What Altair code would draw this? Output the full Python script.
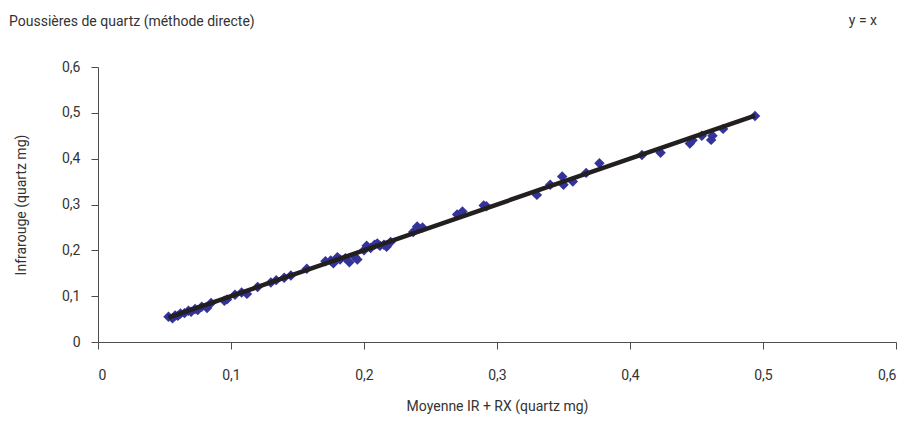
import altair as alt
import pandas as pd

# Data
x_vals = [0.053, 0.056, 0.058, 0.060, 0.062, 0.065, 0.068, 0.070, 0.073, 0.075,
          0.078, 0.082, 0.085, 0.095, 0.097, 0.103, 0.108, 0.112, 0.120, 0.130,
          0.134, 0.140, 0.145, 0.157, 0.171, 0.175, 0.177, 0.180, 0.182, 0.186,
          0.189, 0.193, 0.195, 0.200, 0.202, 0.205, 0.208, 0.210, 0.212, 0.215,
          0.217, 0.220, 0.237, 0.240, 0.244, 0.270, 0.274, 0.290, 0.292, 0.330,
          0.340, 0.349, 0.350, 0.357, 0.367, 0.377, 0.409, 0.423, 0.445, 0.447,
          0.454, 0.461, 0.462, 0.470, 0.494]
y_vals = [0.055, 0.052, 0.058, 0.057, 0.062, 0.063, 0.068, 0.066, 0.072, 0.070,
          0.077, 0.074, 0.085, 0.090, 0.093, 0.103, 0.108, 0.105, 0.120, 0.130,
          0.135, 0.140, 0.145, 0.160, 0.176, 0.178, 0.172, 0.185, 0.180, 0.183,
          0.174, 0.186, 0.180, 0.200, 0.210, 0.205, 0.212, 0.215, 0.210, 0.212,
          0.208, 0.218, 0.240, 0.252, 0.250, 0.278, 0.285, 0.298, 0.296, 0.321,
          0.343, 0.361, 0.343, 0.350, 0.369, 0.390, 0.408, 0.413, 0.433, 0.440,
          0.450, 0.441, 0.450, 0.465, 0.493]
tick_values = [0, 0.1, 0.2, 0.3, 0.4, 0.5, 0.6]

title_text = "Poussières de quartz (méthode directe)"
legend_text = "y = x"
x_title = "Moyenne IR + RX (quartz mg)"
y_title = "Infrarouge (quartz mg)"

pts = pd.DataFrame({"x": x_vals, "y": y_vals})
line_df = pd.DataFrame({"x": [min(x_vals), max(x_vals)], "y": [min(x_vals), max(x_vals)]})

FONT = "Roboto"
FS = 14
AX = "#4d4d4d"
TXT = "#333333"
label_expr = "datum.value == 0 ? '0' : replace(format(datum.value, '.1f'), '.', ',')"

xscale = alt.Scale(domain=[0, 0.6], nice=False, zero=True)
yscale = alt.Scale(domain=[0, 0.6], nice=False, zero=True)

xaxis = alt.Axis(values=tick_values, labelExpr=label_expr, title=x_title, grid=False,
                 domainColor=AX, tickColor=AX, tickSize=7, labelPadding=19,
                 labelFont=FONT, labelFontSize=FS, labelColor=TXT,
                 titleFont=FONT, titleFontSize=FS, titleColor=TXT, titleFontWeight="normal",
                 titlePadding=17)
yaxis = alt.Axis(values=tick_values, labelExpr=label_expr, title=y_title, grid=False,
                 domainColor=AX, tickColor=AX, tickSize=7, labelPadding=11,
                 labelFont=FONT, labelFontSize=FS, labelColor=TXT,
                 titleFont=FONT, titleFontSize=FS, titleColor=TXT, titleFontWeight="normal",
                 titlePadding=33)

points = alt.Chart(pts).mark_point(shape="diamond", filled=True, size=110, color="#333399",
                                   opacity=1).encode(
    x=alt.X("x:Q", scale=xscale, axis=xaxis),
    y=alt.Y("y:Q", scale=yscale, axis=yaxis),
)

line = alt.Chart(line_df).mark_line(color="#231f20", strokeWidth=4.5).encode(
    x=alt.X("x:Q", scale=xscale),
    y=alt.Y("y:Q", scale=yscale),
)

legend = alt.Chart(pd.DataFrame({"t": [legend_text]})).mark_text(
    font=FONT, fontSize=FS, color=TXT, align="right", baseline="middle"
).encode(x=alt.value(779), y=alt.value(-46), text="t:N")

title = alt.Chart(pd.DataFrame({"t": [title_text]})).mark_text(
    font=FONT, fontSize=FS, color=TXT, align="left", baseline="middle"
).encode(x=alt.value(-89), y=alt.value(-45), text="t:N")

chart = alt.layer(points, line, legend, title).properties(
    width=798, height=275,
    autosize=alt.AutoSizeParams(type="none"),
    padding={"left": 90, "top": 59, "right": 4, "bottom": 74},
).configure_view(stroke=None)

chart.save("out.html", embed_options={"renderer": "svg", "actions": False})
